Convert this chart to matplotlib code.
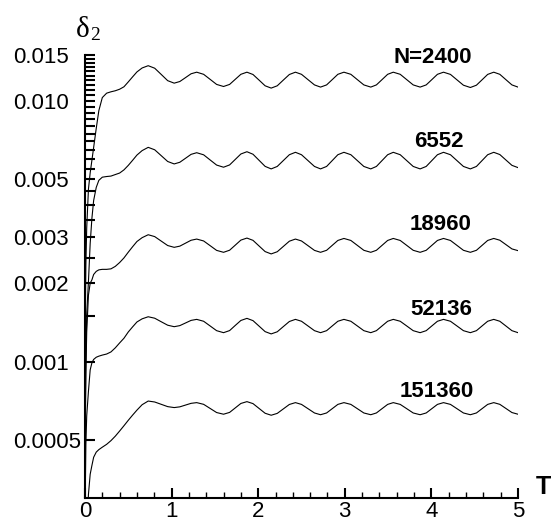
import matplotlib
matplotlib.use('Agg')
import matplotlib.pyplot as plt
from matplotlib.ticker import MultipleLocator, NullLocator

plt.rcParams['font.family'] = ['Liberation Sans', 'DejaVu Sans']

# time axis shared by all runs
T = [0.0, 0.005, 0.01, 0.02, 0.04, 0.06, 0.08, 0.10, 0.13, 0.16,
     0.20, 0.25, 0.30, 0.35, 0.40, 0.45, 0.50, 0.55, 0.60, 0.66,
     0.73, 0.805, 0.88, 0.955, 1.03, 1.095, 1.16, 1.225, 1.29, 1.37,
     1.445, 1.52, 1.60, 1.67, 1.735, 1.80, 1.87, 1.94, 2.01, 2.08,
     2.15, 2.22, 2.29, 2.36, 2.43, 2.50, 2.575, 2.65, 2.72, 2.79,
     2.855, 2.92, 2.99, 3.07, 3.145, 3.22, 3.30, 3.365, 3.43, 3.495,
     3.56, 3.64, 3.715, 3.79, 3.87, 3.94, 4.005, 4.07, 4.14, 4.22,
     4.295, 4.37, 4.45, 4.52, 4.585, 4.65, 4.72, 4.79, 4.86, 4.93,
     5.00]

delta_2400 = [0.0, 0.00163, 0.00235, 0.00326, 0.00459, 0.0053, 0.00592, 0.00663, 0.00785, 0.00918,
              0.0103, 0.01071, 0.01084, 0.01094, 0.01109, 0.01133, 0.01183, 0.01237, 0.01292, 0.01338,
              0.01365, 0.01335, 0.01264, 0.01196, 0.0117, 0.01187, 0.01228, 0.01271, 0.01289, 0.01265,
              0.0121, 0.01157, 0.01136, 0.01157, 0.0121, 0.01265, 0.01289, 0.01263, 0.01202, 0.01143,
              0.0112, 0.01143, 0.01202, 0.01263, 0.01289, 0.01265, 0.01207, 0.01152, 0.0113, 0.01152,
              0.01207, 0.01265, 0.01289, 0.01265, 0.01207, 0.01152, 0.0113, 0.01152, 0.01207, 0.01265,
              0.01289, 0.01265, 0.01207, 0.01152, 0.0113, 0.01152, 0.01207, 0.01265, 0.01289, 0.01264,
              0.01205, 0.01149, 0.01126, 0.01149, 0.01205, 0.01264, 0.01289, 0.01265, 0.01207, 0.01152,
              0.0113]

delta_6552 = [0.0, 0.00071, 0.00101, 0.00152, 0.00203, 0.00284, 0.00355, 0.00415, 0.00466, 0.00496,
              0.0051, 0.00513, 0.00515, 0.00522, 0.00529, 0.00544, 0.00566, 0.00592, 0.0062, 0.00645,
              0.006637, 0.006496, 0.006169, 0.005858, 0.005733, 0.005818, 0.006024, 0.006239, 0.00633, 0.006214,
              0.005938, 0.005676, 0.005569, 0.005683, 0.005964, 0.006259, 0.006386, 0.006246, 0.00592, 0.005611,
              0.005487, 0.005607, 0.005905, 0.006219, 0.006353, 0.006219, 0.005905, 0.005607, 0.005487, 0.005607,
              0.005905, 0.006219, 0.006353, 0.006219, 0.005905, 0.005607, 0.005487, 0.005607, 0.005905, 0.006219,
              0.006353, 0.006219, 0.005905, 0.005607, 0.005487, 0.005607, 0.005905, 0.006219, 0.006353, 0.006219,
              0.005905, 0.005607, 0.005487, 0.005607, 0.005905, 0.006219, 0.006353, 0.006229, 0.005938, 0.005662,
              0.00555]

delta_18960 = [0.0, 0.0006, 0.0009, 0.0013, 0.0018, 0.0020, 0.00206, 0.00216, 0.00222, 0.00225,
               0.00226, 0.00226, 0.00227, 0.00232, 0.00240, 0.00250, 0.00263, 0.00276, 0.00289, 0.00299,
               0.003068, 0.003018, 0.002901, 0.002789, 0.002745, 0.002774, 0.002847, 0.002922, 0.002953, 0.002904,
               0.002786, 0.002672, 0.002627, 0.002676, 0.002798, 0.002926, 0.002979, 0.002920, 0.002778, 0.002644,
               0.002590, 0.002640, 0.002766, 0.002898, 0.002953, 0.002904, 0.002786, 0.002672, 0.002627, 0.002674,
               0.002793, 0.002917, 0.002969, 0.002917, 0.002793, 0.002674, 0.002627, 0.002674, 0.002793, 0.002917,
               0.002969, 0.002917, 0.002793, 0.002674, 0.002627, 0.002674, 0.002793, 0.002917, 0.002969, 0.002917,
               0.002793, 0.002674, 0.002627, 0.002674, 0.002793, 0.002917, 0.002969, 0.002923, 0.002813, 0.002707,
               0.002666]

delta_52136 = [0.0, 0.00035, 0.00048, 0.00062, 0.00077, 0.00093, 0.00099, 0.00102, 0.00104, 0.00105,
               0.00106, 0.00107, 0.00109, 0.00113, 0.00118, 0.00123, 0.00130, 0.00136, 0.00142, 0.00146,
               0.001487, 0.001468, 0.001423, 0.001380, 0.001362, 0.001375, 0.001407, 0.001440, 0.001453, 0.001429,
               0.001371, 0.001315, 0.001292, 0.001316, 0.001377, 0.001439, 0.001466, 0.001437, 0.001369, 0.001304,
               0.001278, 0.001302, 0.001363, 0.001426, 0.001453, 0.001429, 0.001371, 0.001315, 0.001292, 0.001315,
               0.001371, 0.001429, 0.001453, 0.001429, 0.001371, 0.001315, 0.001292, 0.001315, 0.001371, 0.001429,
               0.001453, 0.001429, 0.001371, 0.001315, 0.001292, 0.001315, 0.001371, 0.001429, 0.001453, 0.001429,
               0.001371, 0.001315, 0.001292, 0.001315, 0.001371, 0.001429, 0.001453, 0.001429, 0.001371, 0.001315,
               0.001292]

delta_151360 = [0.0, 0.00010, 0.00015, 0.00022, 0.00031, 0.00037, 0.00040, 0.00043, 0.00045, 0.00046,
                0.00047, 0.000482, 0.000498, 0.000518, 0.000542, 0.000568, 0.000596, 0.000624, 0.000652, 0.000684,
                0.0007064, 0.0007005, 0.0006863, 0.0006724, 0.0006668, 0.0006711, 0.0006816, 0.0006922, 0.0006966, 0.0006862,
                0.0006618, 0.0006382, 0.0006288, 0.000639, 0.0006647, 0.0006915, 0.0007027, 0.0006906, 0.0006618, 0.0006342,
                0.0006232, 0.0006334, 0.0006589, 0.0006854, 0.0006966, 0.0006858, 0.0006604, 0.0006358, 0.000626, 0.0006358,
                0.0006604, 0.0006858, 0.0006966, 0.0006858, 0.0006604, 0.0006358, 0.000626, 0.0006358, 0.0006604, 0.0006858,
                0.0006966, 0.0006858, 0.0006604, 0.0006358, 0.000626, 0.0006358, 0.0006604, 0.0006858, 0.0006966, 0.0006858,
                0.0006604, 0.0006358, 0.000626, 0.0006358, 0.0006604, 0.0006858, 0.0006966, 0.0006862, 0.0006618, 0.0006382,
                0.0006288]

run_names = ['N=2400', '6552', '18960', '52136', '151360']
runs = [delta_2400, delta_6552, delta_18960, delta_52136, delta_151360]

xtick_values = [0, 1, 2, 3, 4, 5]
ytick_text = {0.0005: '0.0005', 0.001: '0.001', 0.002: '0.002', 0.003: '0.003',
              0.005: '0.005', 0.01: '0.010', 0.015: '0.015'}

fig = plt.figure(figsize=(5.54, 5.21), dpi=100)
ax = fig.add_axes([0.1534, 0.0441, 0.7816, 0.8503])
ax.set_yscale('log')

for values in runs:
    ax.plot(T, values, color='black', lw=0.8)

ax.set_xlim(0, 5)
ax.set_ylim(0.0003, 0.015)

ax.spines['top'].set_visible(False)
ax.spines['right'].set_visible(False)
ax.spines['left'].set_linewidth(1.5)
ax.spines['bottom'].set_linewidth(1.5)

# x axis: majors every 1, minors every 0.2, all pointing inward
ax.set_xticks(xtick_values)
ax.xaxis.set_minor_locator(MultipleLocator(0.2))
ax.tick_params(axis='x', which='major', direction='in', length=7, width=1.5,
               labelsize=16, pad=2)
ax.tick_params(axis='x', which='minor', direction='in', length=4, width=1.0)

# y axis: a tick every 0.0005 on the log scale, only some labelled
yticks = [round(0.0005 * k, 4) for k in range(1, 31)]
ylabels = [ytick_text.get(v, '') for v in yticks]
ax.set_yticks(yticks, ylabels)
ax.yaxis.set_minor_locator(NullLocator())
ax.tick_params(axis='y', direction='in', length=7.5, width=1.5,
               labelsize=16, pad=52)
for lab in ax.get_yticklabels():
    lab.set_horizontalalignment('left')

# run labels
label_pos = [(4.02, 0.01402), (4.09, 0.006676), (4.11, 0.0032),
             (4.11, 0.00151), (4.06, 0.000734)]
for name, (tx, ty) in zip(run_names, label_pos):
    ax.text(tx, ty, name, fontsize=16, fontweight='bold',
            ha='center', va='baseline')

ax.text(1.0577, 0.009, 'T', transform=ax.transAxes, fontsize=18,
        fontweight='bold', ha='center', va='baseline', clip_on=False)
ax.text(-0.0208, 1.0413, 'δ', transform=ax.transAxes, family='Liberation Serif',
        fontsize=21, ha='left', va='baseline', clip_on=False)
ax.text(0.0115, 1.0339, '2', transform=ax.transAxes, family='Liberation Serif',
        fontsize=14, ha='left', va='baseline', clip_on=False)

fig.savefig('out.png', dpi=100)
